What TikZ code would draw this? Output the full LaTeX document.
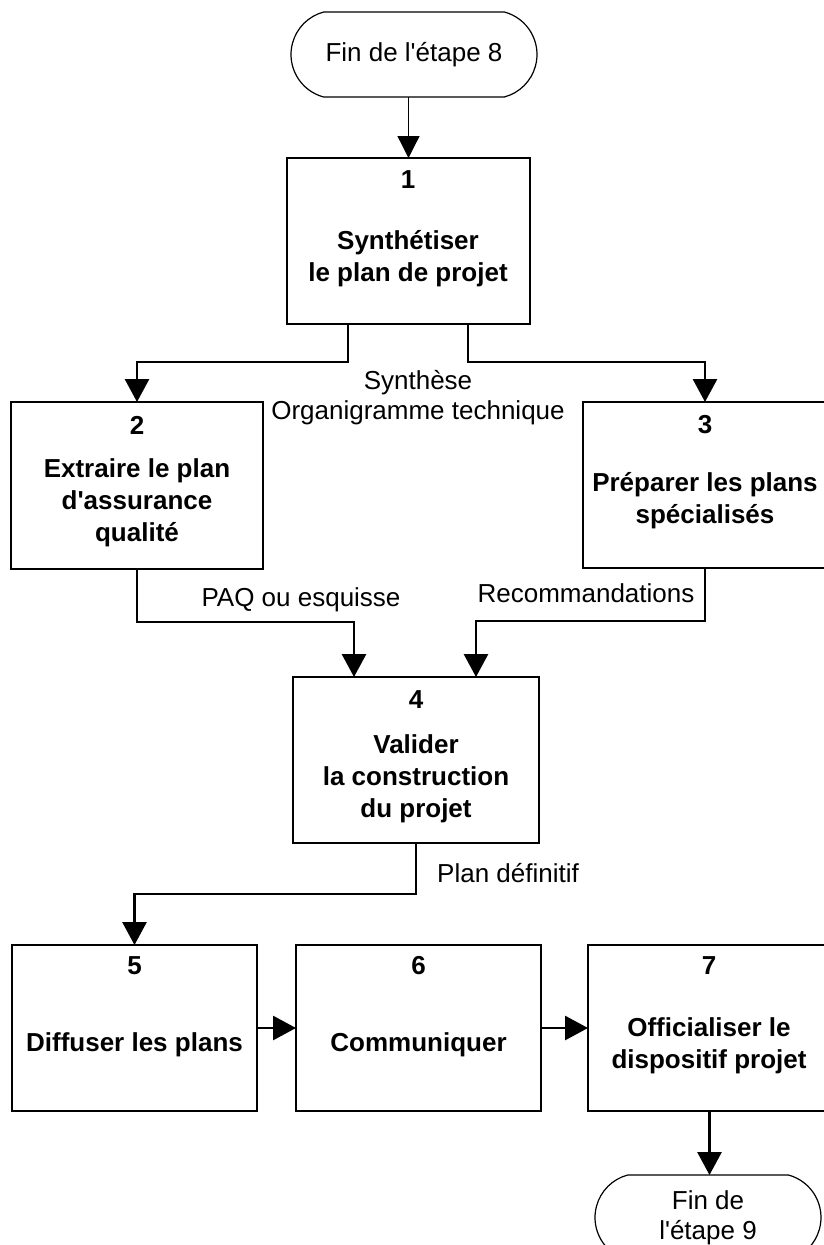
\documentclass[tikz,border=0pt]{standalone}
\usepackage{fontspec}
\setmainfont{Liberation Sans}
\usetikzlibrary{arrows.meta,shapes.misc}
\begin{document}
\begin{tikzpicture}[x=1pt,y=-1pt,
  font=\fontsize{26}{30}\selectfont,
  box/.style={draw, line width=1.2pt, inner sep=0pt, outer sep=0pt},
  term/.style={draw, line width=1.2pt, rounded rectangle, rounded rectangle arc length=150,
    inner sep=0pt, outer sep=0pt, align=center, minimum height=85pt},
  num/.style={font=\fontsize{26}{30}\selectfont\bfseries},
  ttl/.style={font=\fontsize{26}{32}\selectfont\bfseries, align=center},
  lbl/.style={align=center},
  conn/.style={line width=2.9pt, -{Triangle[width=24pt,length=23pt]}},
  thinconn/.style={line width=1.3pt, -{Triangle[width=22pt,length=22pt]}}
]
\useasboundingbox (0,0) rectangle (823,1245);

% terminals
\node[term, minimum width=246pt] (t1) at (414,54.5) {Fin de l\textquotesingle étape 8};
\node[term, minimum width=226pt] (t2) at (708,1217.5) {Fin de\\l\textquotesingle étape 9};

% boxes
\node[box, minimum width=243pt, minimum height=166pt] (b1) at (408.5,241) {};
\node[box, minimum width=252pt, minimum height=167pt] (b2) at (137,485.5) {};
\node[box, minimum width=244pt, minimum height=166pt] (b3) at (705,485) {};
\node[box, minimum width=246pt, minimum height=166pt] (b4) at (416,760) {};
\node[box, minimum width=245pt, minimum height=166pt] (b5) at (134.5,1028) {};
\node[box, minimum width=245pt, minimum height=166pt] (b6) at (418.5,1028) {};
\node[box, minimum width=243pt, minimum height=166pt] (b7) at (709.5,1028) {};

% box texts
\node[num] (n1) at (408,180) {1};
\node[ttl] (x1) at (408,258.5) {Synthétiser\\le plan de projet};
\node[num] (n2) at (137,425) {2};
\node[ttl] (x2) at (137,503) {Extraire le plan\\d\textquotesingle assurance\\qualité};
\node[num] (n3) at (705,425) {3};
\node[ttl] (x3) at (705,501) {Préparer les plans\\spécialisés};
\node[num] (n4) at (416,700) {4};
\node[ttl] (x4) at (416,779) {Valider\\la construction\\du projet};
\node[num] (n5) at (134.5,966) {5};
\node[ttl] (x5) at (134.5,1045) {Diffuser les plans};
\node[num] (n6) at (418.5,966) {6};
\node[ttl] (x6) at (418.5,1045) {Communiquer};
\node[num] (n7) at (709,966) {7};
\node[ttl] (x7) at (709,1045.5) {Officialiser le\\dispositif projet};

% labels
\node[lbl] (l1) at (418,398) {Synthèse\\Organigramme technique};
\node (l2) at (301,600) {PAQ ou esquisse};
\node (l3) at (586,593) {Recommandations};
\node (l4) at (508,873) {Plan définitif};

% connectors
\draw[thinconn] (b1.north |- t1.south) -- (b1.north);
\draw[conn] ([xshift=-60.5pt]b1.south) -- ++(0,38) -| (b2.north);
\draw[conn] ([xshift=59.5pt]b1.south) -- ++(0,38) -| (b3.north);
\draw[conn] (b2.south) -- ++(0,53) -| ([xshift=-62pt]b4.north);
\draw[conn] (b3.south) -- ++(0,53) -| ([xshift=60pt]b4.north);
\draw[conn] (b4.south) -- ++(0,51) -| (b5.north);
\draw[conn] (b5.east) -- (b6.west);
\draw[conn] (b6.east) -- (b7.west);
\draw[conn] (b7.south) -- (b7.south |- t2.north);
\end{tikzpicture}
\end{document}
